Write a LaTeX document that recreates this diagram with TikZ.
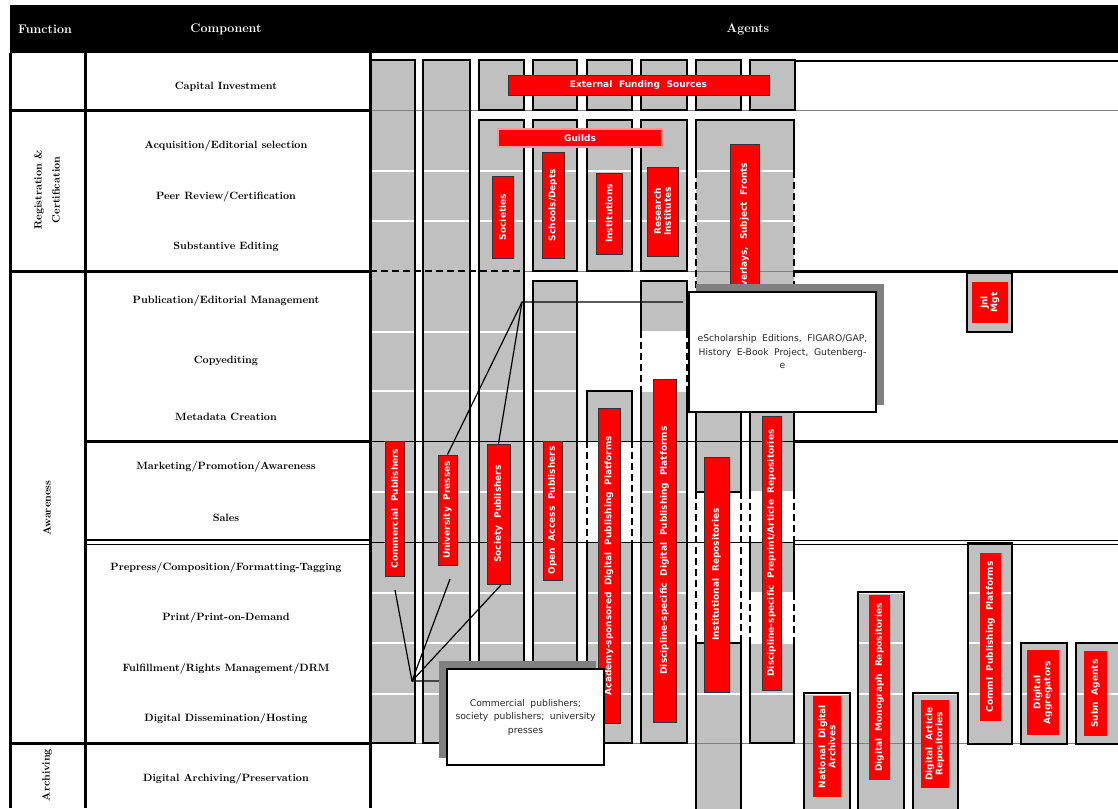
\documentclass[tikz,border=0pt]{standalone}
\usepackage{fontspec}
\newfontfamily\agentsans{DejaVu Sans}
\definecolor{colgray}{RGB}{192,192,192}
\definecolor{shadowgray}{RGB}{128,128,128}
\definecolor{agentred}{RGB}{255,0,0}
\definecolor{guildpink}{RGB}{255,150,150}
\definecolor{notetext}{RGB}{40,40,40}
\newcommand{\agentfont}{\agentsans\bfseries\fontsize{9}{10}\selectfont\spaceskip=0.75em\relax}
\newcommand{\notefont}{\agentsans\fontsize{9.2}{13.5}\selectfont\spaceskip=0.6em\relax}
\newcommand{\compfont}{\bfseries\fontsize{10.6}{12}\selectfont}
\newcommand{\funcfont}{\bfseries\fontsize{10.6}{18}\selectfont}
\newcommand{\headfont}{\bfseries\fontsize{12.5}{14}\selectfont}

\tikzset{
  agent/.style={fill=agentred, draw=black!80, line width=1pt, text=white, font=\agentfont, inner sep=0pt, align=center},
  agentup/.style={agent, rotate=90},
  flatup/.style={agentup, draw=none},
  colside/.style={line width=2.5pt},
  colgap/.style={line width=2.5pt, dash pattern=on 7pt off 4pt},
  rowsep/.style={white, line width=1.5pt},
  tabline/.style={line width=3pt},
  comp/.style={font=\compfont},
  func/.style={font=\funcfont, rotate=90, align=center},
  head/.style={text=white, font=\headfont},
  note/.style={draw=black, line width=1.2pt, fill=white, text=notetext, font=\notefont, align=center, inner sep=0pt},
  pointer/.style={line width=1.2pt},
}

\begin{document}
\begin{tikzpicture}[x=1pt, y=-1pt]
  \useasboundingbox (0,0) rectangle (1118,808);
  \clip (0,0) rectangle (1118,808);

  %Header
  \fill (10,5) rectangle (1118,53);
  \node[head] (hfunc)   at (45,29)  {Function};
  \node[head] (hcomp)   at (226,29) {Component};
  \node[head] (hagents) at (748,29) {Agents};

  %Gray columns
  \foreach \xa/\ya/\xb/\yb in {370/60/415/743, 423/60/470/743,
      479/60/524/110, 533/60/577/110, 587/60/632/110, 641/60/687/110, 696/60/741/110, 750/60/795/110,
      479/120/524/743, 533/120/577/271, 587/120/632/271, 641/120/687/271, 696/120/794/292,
      533/281/577/743, 587/391/632/441, 587/542/632/743, 641/281/687/331, 641/391/687/743,
      696/412/741/492, 696/643/741/815, 750/412/794/492, 750/542/794/593, 750/643/794/743,
      967/273/1012/332, 804/693/850/815, 858/592/904/815, 913/693/958/815,
      968/543/1012/744, 1021/643/1067/744, 1076/643/1130/744}
    \fill[colgray] (\xa,\ya) rectangle (\xb,\yb);

  %Row lines
  \foreach \y in {171,221,332,391,492,593,643,694}
    \draw[rowsep] (370,\y) -- (1118,\y);
  \draw[gray, line width=1pt] (370,110) -- (1118,110);
  \draw[gray, line width=1pt] (524,271) -- (794,271);
  \draw[line width=1pt] (370,441) -- (794,441);
  \draw[line width=1pt] (370,542) -- (794,542);
  \draw[gray, line width=1pt] (370,743) -- (1118,743);
  \draw[line width=2.5pt] (794,61) -- (1118,61);
  \draw[line width=3pt] (794,271) -- (1118,271);
  \draw[line width=3pt] (794,441) -- (1118,441);
  \draw[line width=1pt] (794,540) -- (1118,540) (794,544.5) -- (1118,544.5);
  \draw[colgap] (370,271) -- (524,271);

  %Column borders
  \foreach \xa/\ya/\xb/\yb in {370/60/415/743, 423/60/470/743,
      479/60/524/110, 533/60/577/110, 587/60/632/110, 641/60/687/110, 696/60/741/110, 750/60/795/110,
      479/120/524/743, 533/120/577/271, 587/120/632/271, 641/120/687/271, 533/281/577/743,
      967/273/1012/332, 804/693/850/815, 858/592/904/815, 913/693/958/815,
      968/543/1012/744, 1021/643/1067/744, 1076/643/1130/744}
    \draw[colside] (\xa,\ya) rectangle (\xb,\yb);
  \draw[colside] (587,441) -- (587,391) -- (632,391) -- (632,441);
  \draw[colgap] (587,441) -- (587,542) (632,441) -- (632,542);
  \draw[colside] (587,542) -- (587,743) -- (632,743) -- (632,542);
  \draw[colside] (641,331) -- (641,281) -- (687,281) -- (687,331);
  \draw[colgap] (641,331) -- (641,391) (687,331) -- (687,391);
  \draw[colside] (641,391) -- (641,743) -- (687,743) -- (687,391);
  \draw[colside] (696,171) -- (696,120) -- (794,120) -- (794,171);
  \draw[colgap] (696,171) -- (696,292) (794,171) -- (794,292);
  \draw[colside] (696,412) -- (696,492) -- (741,492) -- (741,412);
  \draw[colgap] (696,492) -- (696,643) (741,492) -- (741,643);
  \draw[colside] (696,815) -- (696,643) -- (741,643) -- (741,815);
  \draw[colside] (750,412) -- (750,492) (794,412) -- (794,492);
  \draw[colgap] (750,492) -- (750,542) (794,492) -- (794,542);
  \draw[colside] (750,542) -- (750,593) (794,542) -- (794,593);
  \draw[colgap] (750,593) -- (750,643) (794,593) -- (794,643);
  \draw[colside] (750,643) -- (750,743) -- (794,743) -- (794,643);

  %Left table
  \draw[tabline] (10,53) -- (10,808) (85,53) -- (85,808) (370,53) -- (370,808);
  \draw[tabline] (10,110) -- (370,110) (10,271) -- (370,271) (85,441) -- (370,441) (10,743) -- (370,743);
  \draw[line width=1.5pt] (85,540) -- (370,540) (85,544.5) -- (370,544.5);

  %Functions
  \node[func] (fregcert) at (47,190)  {Registration \&\\Certification};
  \node[func] (faware)   at (47,508)  {Awareness};
  \node[func] (farchive) at (47,775)  {Archiving};

  %Components
  \node[comp] (capinv)    at (226,87)  {Capital Investment};
  \node[comp] (acqsel)    at (226,146) {Acquisition/Editorial selection};
  \node[comp] (peerrev)   at (226,197) {Peer Review/Certification};
  \node[comp] (subedit)   at (226,247) {Substantive Editing};
  \node[comp] (pubmgt)    at (226,301) {Publication/Editorial Management};
  \node[comp] (copyed)    at (226,361) {Copyediting};
  \node[comp] (metadata)  at (226,417) {Metadata Creation};
  \node[comp] (marketing) at (226,467) {Marketing/Promotion/Awareness};
  \node[comp] (sales)     at (226,518) {Sales};
  \node[comp] (prepress)  at (226,568) {Prepress/Composition/Formatting-Tagging};
  \node[comp] (printpod)  at (226,618) {Print/Print-on-Demand};
  \node[comp] (fulfil)    at (226,669) {Fulfillment/Rights Management/DRM};
  \node[comp] (dissem)    at (226,719) {Digital Dissemination/Hosting};
  \node[comp] (archive)   at (226,779) {Digital Archiving/Preservation};

  %Agents
  \node[agent, minimum width=261pt, minimum height=20pt] (extfund) at (638.5,85) {External Funding Sources};
  \node[agent, draw=guildpink, line width=1.5pt, minimum width=164pt, minimum height=18pt] (guilds) at (580,138) {Guilds};
  \node[agentup, minimum width=82pt,  minimum height=21pt] (societies) at (502.5,217) {Societies};
  \node[agentup, minimum width=106pt, minimum height=22pt] (schools)   at (553,205)   {Schools/Depts};
  \node[agentup, minimum width=81pt,  minimum height=26pt] (instits)   at (609,213.5) {Institutions};
  \node[agentup, minimum width=89pt,  minimum height=31pt] (resinst)   at (662.5,211.5) {Research\\Institutes};
  \node[agentup, minimum width=169pt, minimum height=29pt] (overlays)  at (744.5,228.5) {Overlays, Subject Fronts};
  \node[agentup, minimum width=135pt, minimum height=19pt] (compub)    at (394.5,508.5) {Commercial Publishers};
  \node[agentup, minimum width=110pt, minimum height=19pt] (unipress)  at (447.5,510) {University Presses};
  \node[agentup, minimum width=140pt, minimum height=23pt] (socpub)    at (498.5,514) {Society Publishers};
  \node[agentup, minimum width=139pt, minimum height=19pt] (oapub)     at (552.5,510.5) {Open Access Publishers};
  \node[agentup, minimum width=315pt, minimum height=22pt] (acadplat)  at (609,565.5) {Academy-sponsored Digital Publishing Platforms};
  \node[agentup, minimum width=343pt, minimum height=23pt] (discplat)  at (664.5,550.5) {Discipline-specific Digital Publishing Platforms};
  \node[agentup, minimum width=235pt, minimum height=25pt] (instrepo)  at (716.5,574.5) {Institutional Repositories};
  \node[agentup, minimum width=274pt, minimum height=19pt] (discrepo)  at (771.5,553) {Discipline-specific Preprint/Article Repositories};
  \node[flatup, minimum width=41pt,  minimum height=36pt] (jnlmgt)    at (990,302.5) {Jnl\\Mgt};
  \node[flatup, minimum width=101pt, minimum height=28pt] (natarch)   at (827,746.5) {National Digital\\Archives};
  \node[flatup, minimum width=185pt, minimum height=21pt] (monorepo)  at (879.5,687.5) {Digital Monograph Repositories};
  \node[flatup, minimum width=88pt,  minimum height=28pt] (artrepo)   at (935,744) {Digital Article\\Repositories};
  \node[flatup, minimum width=168pt, minimum height=21pt] (commlplat) at (990.5,637) {Comml Publishing Platforms};
  \node[flatup, minimum width=85pt,  minimum height=32pt] (aggreg)    at (1043,692.5) {Digital\\Aggregators};
  \node[flatup, minimum width=85pt,  minimum height=23pt] (subn)      at (1095.5,693.5) {Subn Agents};

  %Callouts
  \coordinate (escapex) at (522,302);
  \coordinate (comapex) at (412,681);
  \coordinate (compubend) at (395,590);
  \coordinate (unipressend) at (450,579);
  \coordinate (socpubend) at (501,585);
  \draw[pointer] (683,302) -- (escapex) -- (unipress.east);
  \draw[pointer] (escapex) -- (socpub.east);
  \draw[pointer] (440,681) -- (comapex) -- (compubend);
  \draw[pointer] (comapex) -- (unipressend);
  \draw[pointer] (comapex) -- (socpubend);
  \fill[shadowgray] (696,284) rectangle (884,405);
  \node[note, minimum width=187pt, minimum height=120pt] (escnote) at (782.5,352)
    {eScholarship Editions, FIGARO/GAP,\\History E-Book Project, Gutenberg-\\e};
  \fill[shadowgray] (439,661) rectangle (596,758);
  \node[note, minimum width=157pt, minimum height=96pt] (comnote) at (525.5,717)
    {Commercial publishers;\\society publishers; university\\presses};
\end{tikzpicture}
\end{document}
